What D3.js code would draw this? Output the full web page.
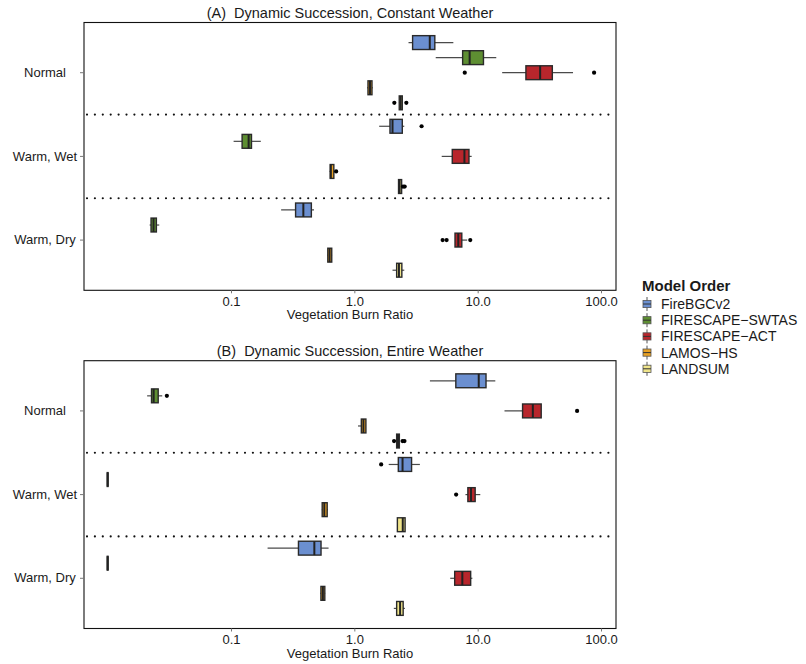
<!DOCTYPE html>
<html>
<head>
<meta charset="utf-8">
<script src="https://cdn.jsdelivr.net/npm/d3@7"></script>
<style>
  html, body { margin: 0; padding: 0; background: #fff; }
  svg { display: block; }
  text { font-family: "Liberation Sans", Arial, Helvetica, sans-serif; fill: #1a1a1a; }
</style>
</head>
<body>
<svg id="chart" width="806" height="664"></svg>
<script>
// ---- data -------------------------------------------------------------
const models = ["FireBGCv2", "FIRESCAPE−SWTAS", "FIRESCAPE−ACT", "LAMOS−HS", "LANDSUM"];
const modelColors = ["#6B8FD0", "#5E8E32", "#B8262C", "#E8A124", "#EFE48A"];
const scenarios = ["Normal", "Warm, Wet", "Warm, Dry"];
const tickValues = [0.1, 1, 10, 100];
const tickLabels = ["0.1", "1.0", "10.0", "100.0"];
const panelTitles = ["(A)  Dynamic Succession, Constant Weather", "(B)  Dynamic Succession, Entire Weather"];

// Box summaries: [scenario, model, lower whisker, Q1, median, Q3, upper whisker]
const constantWeatherStats = [
  ["Normal",    "FireBGCv2",        2.75,  2.99,  4.09,  4.46,  6.35],
  ["Normal",    "FIRESCAPE−SWTAS",  4.57,  7.61,  8.61, 11.06, 14.15],
  ["Normal",    "FIRESCAPE−ACT",   15.8,  24.8,  32.1,  40.0,  59.3],
  ["Normal",    "LAMOS−HS",         1.27,  1.30,  1.34,  1.38,  1.41],
  ["Normal",    "LANDSUM",          2.30,  2.33,  2.38,  2.43,  2.47],
  ["Warm, Wet", "FireBGCv2",        1.59,  1.96,  2.04,  2.43,  2.54],
  ["Warm, Wet", "FIRESCAPE−SWTAS",  0.105, 0.124, 0.139, 0.1455, 0.1745],
  ["Warm, Wet", "FIRESCAPE−ACT",    5.11,  6.27,  7.81,  8.44,  8.94],
  ["Warm, Wet", "LAMOS−HS",         0.63,  0.642, 0.645, 0.677, 0.69],
  ["Warm, Wet", "LANDSUM",          2.28,  2.30,  2.33,  2.40,  2.42],
  ["Warm, Dry", "FireBGCv2",        0.255, 0.3365, 0.386, 0.445, 0.471],
  ["Warm, Dry", "FIRESCAPE−SWTAS",  0.0219, 0.02265, 0.02355, 0.02465, 0.0262],
  ["Warm, Dry", "FIRESCAPE−ACT",    6.6,   6.6,   6.96,  7.38,  8.22],
  ["Warm, Dry", "LAMOS−HS",         0.605, 0.614, 0.63,  0.651, 0.66],
  ["Warm, Dry", "LANDSUM",          2.04,  2.22,  2.30,  2.41,  2.54]
];
// Outliers: [scenario, model, value]
const constantWeatherOutliers = [
  ["Normal",    "FIRESCAPE−ACT", 7.86],
  ["Normal",    "FIRESCAPE−ACT", 87.9],
  ["Normal",    "LANDSUM",       2.11],
  ["Normal",    "LANDSUM",       2.64],
  ["Warm, Wet", "FireBGCv2",     3.51],
  ["Warm, Wet", "LAMOS−HS",      0.712],
  ["Warm, Wet", "LANDSUM",       2.48],
  ["Warm, Wet", "LANDSUM",       2.56],
  ["Warm, Dry", "FIRESCAPE−ACT", 5.2],
  ["Warm, Dry", "FIRESCAPE−ACT", 5.6],
  ["Warm, Dry", "FIRESCAPE−ACT", 8.71]
];

const entireWeatherStats = [
  ["Normal",    "FireBGCv2",        4.1,   6.7,  10.2,  11.6,  13.9],
  ["Normal",    "FIRESCAPE−SWTAS",  0.0209, 0.02285, 0.0236, 0.0255, 0.0277],
  ["Normal",    "FIRESCAPE−ACT",   16.5,  23.3,  28.0,  32.5,  32.5],
  ["Normal",    "LAMOS−HS",         1.07,  1.148, 1.185, 1.232, 1.232],
  ["Normal",    "LANDSUM",          2.18,  2.22,  2.26,  2.30,  2.34],
  ["Warm, Wet", "FireBGCv2",        1.90,  2.29,  2.46,  2.89,  3.40],
  ["Warm, Wet", "FIRESCAPE−SWTAS",  0.0100, 0.0100, 0.0100, 0.0100, 0.0100],
  ["Warm, Wet", "FIRESCAPE−ACT",    7.96,  8.39,  8.83,  9.47, 10.5],
  ["Warm, Wet", "LAMOS−HS",         0.545, 0.553, 0.571, 0.598, 0.61],
  ["Warm, Wet", "LANDSUM",          2.25,  2.25,  2.47,  2.56,  2.56],
  ["Warm, Dry", "FireBGCv2",        0.198, 0.355, 0.474, 0.533, 0.618],
  ["Warm, Dry", "FIRESCAPE−SWTAS",  0.0100, 0.0100, 0.0100, 0.0100, 0.0100],
  ["Warm, Dry", "FIRESCAPE−ACT",    5.99,  6.56,  7.51,  8.71,  9.06],
  ["Warm, Dry", "LAMOS−HS",         0.53,  0.540, 0.556, 0.572, 0.58],
  ["Warm, Dry", "LANDSUM",          2.09,  2.22,  2.35,  2.47,  2.57]
];
const entireWeatherOutliers = [
  ["Normal",    "FIRESCAPE−SWTAS", 0.0302],
  ["Normal",    "FIRESCAPE−ACT",   64.0],
  ["Normal",    "LANDSUM",         2.10],
  ["Normal",    "LANDSUM",         2.46],
  ["Normal",    "LANDSUM",         2.55],
  ["Warm, Wet", "FireBGCv2",       1.65],
  ["Warm, Wet", "FIRESCAPE−ACT",   6.69]
];

// ---- layout -----------------------------------------------------------
const svg = d3.select("#chart");
const plotLeft = 84, plotRight = 616;
const panels = [
  { top: 22.5, bottom: 290.3, stats: constantWeatherStats, outliers: constantWeatherOutliers, title: panelTitles[0] },
  { top: 360.7, bottom: 628.5, stats: entireWeatherStats, outliers: entireWeatherOutliers, title: panelTitles[1] }
];

const x = d3.scaleLog().domain([0.00643, 132.3]).range([plotLeft, plotRight]);
const color = d3.scaleOrdinal().domain(models).range(modelColors);

panels.forEach(p => {
  const g = svg.append("g");
  const y = d3.scaleBand().domain(scenarios).range([p.top, p.bottom]).paddingInner(0).paddingOuter(0.1);
  const step = y.step();
  const inner = d3.scaleBand().domain(models).range([0.05 * step, 0.95 * step]);
  const boxH = inner.bandwidth() - 1.2;
  const rowY = (s, m) => y(s) + inner(m) + inner.bandwidth() / 2;

  // title
  g.append("text")
    .attr("x", (plotLeft + plotRight) / 2)
    .attr("y", p.top - 5)
    .attr("text-anchor", "middle")
    .style("font-size", "14.5px")
    .style("white-space", "pre")
    .text(p.title);

  // scenario separators
  scenarios.slice(1).forEach(s => {
    g.append("line")
      .attr("x1", plotLeft + 3).attr("x2", plotRight)
      .attr("y1", y(s)).attr("y2", y(s))
      .attr("stroke", "#111").attr("stroke-width", 2.2)
      .attr("stroke-linecap", "round")
      .attr("stroke-dasharray", "0,7.9");
  });

  // whiskers
  g.selectAll(".whisker").data(p.stats).join("line")
    .attr("x1", d => x(d[2])).attr("x2", d => x(d[6]))
    .attr("y1", d => rowY(d[0], d[1])).attr("y2", d => rowY(d[0], d[1]))
    .attr("stroke", "#4a4a4a").attr("stroke-width", 1.2);

  // boxes
  g.selectAll(".box").data(p.stats).join("rect")
    .attr("x", d => x(d[3]) - 0.4)
    .attr("width", d => Math.max(x(d[5]) - x(d[3]), 0) + 0.8)
    .attr("y", d => rowY(d[0], d[1]) - boxH / 2)
    .attr("height", boxH)
    .attr("fill", d => color(d[1]))
    .attr("stroke", "#2a2a2a").attr("stroke-width", 1.4);

  // medians
  g.selectAll(".median").data(p.stats).join("line")
    .attr("x1", d => x(d[4])).attr("x2", d => x(d[4]))
    .attr("y1", d => rowY(d[0], d[1]) - boxH / 2)
    .attr("y2", d => rowY(d[0], d[1]) + boxH / 2)
    .attr("stroke", "#222").attr("stroke-width", 2);

  // outliers
  g.selectAll(".outlier").data(p.outliers).join("circle")
    .attr("cx", d => x(d[2]))
    .attr("cy", d => rowY(d[0], d[1]))
    .attr("r", 2.1)
    .attr("fill", "#000");

  // frame
  g.append("rect")
    .attr("x", plotLeft).attr("y", p.top)
    .attr("width", plotRight - plotLeft).attr("height", p.bottom - p.top)
    .attr("fill", "none").attr("stroke", "#111").attr("stroke-width", 1.1);

  // x axis
  const xAxis = g.append("g")
    .attr("transform", `translate(0,${p.bottom})`)
    .call(d3.axisBottom(x).tickValues(tickValues).tickFormat((d, i) => tickLabels[i]).tickSize(3).tickPadding(3));
  xAxis.select(".domain").remove();
  xAxis.selectAll(".tick line").attr("stroke", "#777");
  xAxis.selectAll(".tick text")
    .style("font-family", "'Liberation Sans', Arial, sans-serif")
    .style("font-size", "13px").attr("fill", "#1a1a1a");

  g.append("text")
    .attr("x", (plotLeft + plotRight) / 2)
    .attr("y", p.bottom + 29)
    .attr("text-anchor", "middle")
    .style("font-size", "13px")
    .text("Vegetation Burn Ratio");

  // y axis: tick marks from the axis, labels centred in the left margin
  const yAxis = g.append("g")
    .attr("transform", `translate(${plotLeft},0)`)
    .call(d3.axisLeft(y).tickSize(4));
  yAxis.select(".domain").remove();
  yAxis.selectAll(".tick line").attr("stroke", "#777");
  yAxis.selectAll(".tick text")
    .attr("x", 45 - plotLeft)
    .attr("text-anchor", "middle")
    .style("font-family", "'Liberation Sans', Arial, sans-serif")
    .style("font-size", "13px").attr("fill", "#1a1a1a");
});

// ---- legend -----------------------------------------------------------
const legend = svg.append("g").attr("transform", "translate(642,0)");
legend.append("text")
  .attr("x", 0).attr("y", 291)
  .style("font-size", "15px").style("font-weight", "bold")
  .text("Model Order");

const item = legend.selectAll(".item").data(models).join("g")
  .attr("transform", (d, i) => `translate(0,${304 + i * 16.2})`);
item.append("line")
  .attr("x1", 5).attr("x2", 5).attr("y1", -7).attr("y2", 7)
  .attr("stroke", "#555").attr("stroke-width", 1);
item.append("rect")
  .attr("x", 1).attr("y", -3.6).attr("width", 8).attr("height", 7.2)
  .attr("fill", d => color(d)).attr("stroke", "#555").attr("stroke-width", 0.8);
item.append("line")
  .attr("x1", 1).attr("x2", 9).attr("y1", 0).attr("y2", 0)
  .attr("stroke", "#333").attr("stroke-width", 1);
item.append("text")
  .attr("x", 19).attr("y", 0).attr("dy", "0.36em")
  .style("font-size", "14px")
  .text(d => d);
</script>
</body>
</html>
